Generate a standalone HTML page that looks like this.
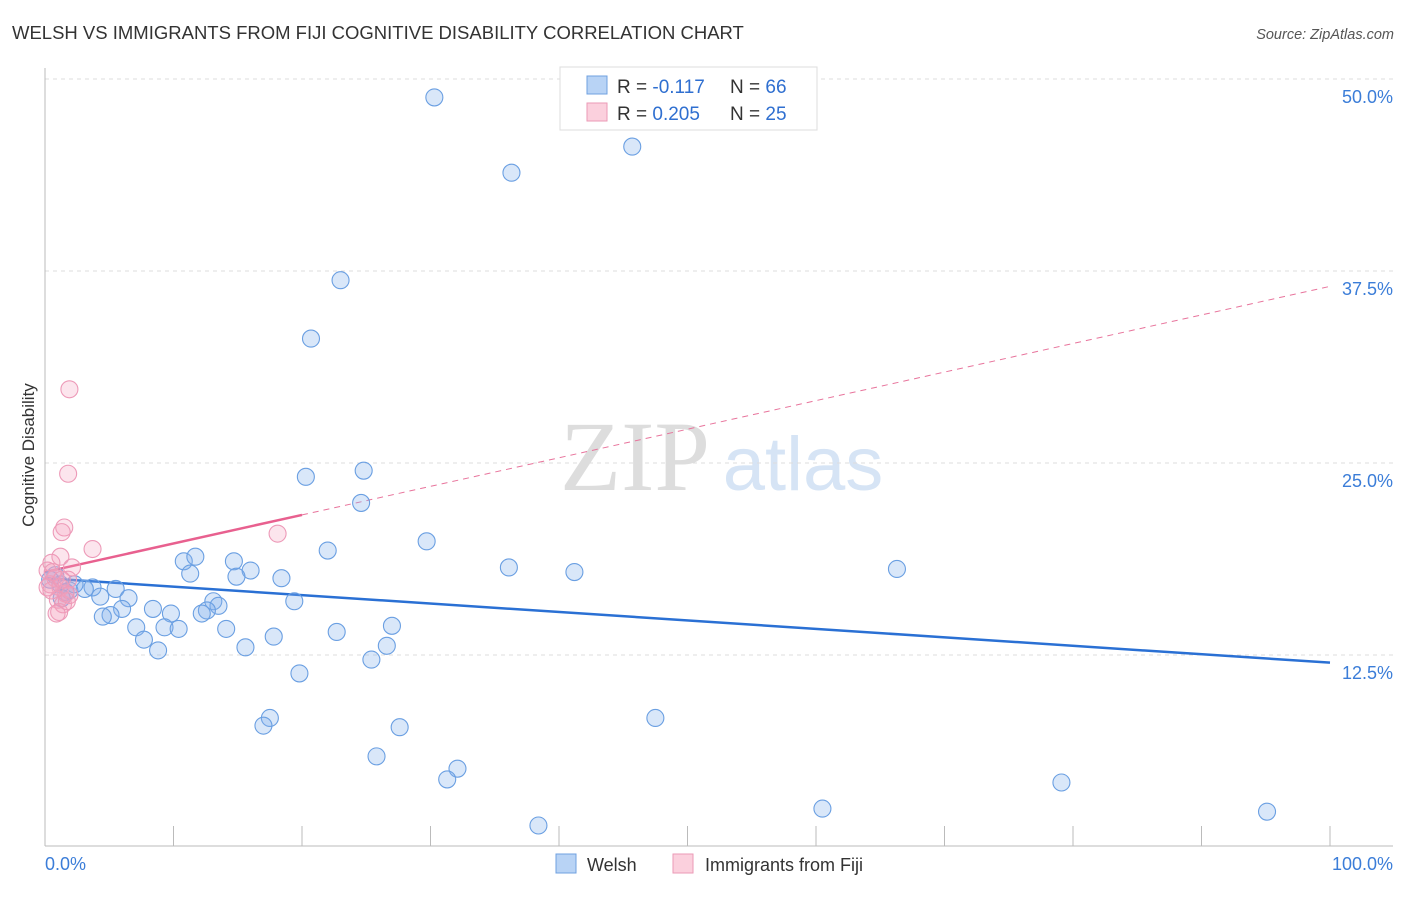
<!DOCTYPE html>
<html><head><meta charset="utf-8"><style>
body{margin:0;background:#fff;font-family:"Liberation Sans",sans-serif;}
</style></head><body>
<svg width="1406" height="892" xmlns="http://www.w3.org/2000/svg" id="chart" style="font-family:'Liberation Sans',sans-serif">
<text x="12" y="39" font-size="18.5" fill="#333">WELSH VS IMMIGRANTS FROM FIJI COGNITIVE DISABILITY CORRELATION CHART</text>
<text x="1394" y="39" font-size="14.5" fill="#555" font-style="italic" text-anchor="end">Source: ZipAtlas.com</text>
<text x="0" y="0" font-size="17" fill="#333" transform="translate(34,455) rotate(-90)" text-anchor="middle">Cognitive Disability</text>
<g>
<text x="635" y="490" font-size="100" fill="#ddd" font-family="Liberation Serif,serif" text-anchor="middle">ZIP</text>
<text x="803" y="490" font-size="76" fill="#d6e4f5" text-anchor="middle">atlas</text>
</g>
<g id="grid"></g><g id="axes"></g><g id="trends"></g><g id="points"></g>
<g>
<rect x="560" y="67" width="257" height="63" fill="#fff" stroke="#ddd"/>
<rect x="587" y="76" width="20" height="18" fill="#b8d3f5" stroke="#6fa0e0"/>
<rect x="587" y="103" width="20" height="18" fill="#fbd0dd" stroke="#eb9ab6"/>
<text x="617" y="93" font-size="19" fill="#333">R = <tspan fill="#2f6fd0">-0.117</tspan></text>
<text x="730" y="93" font-size="19" fill="#333">N = <tspan fill="#2f6fd0">66</tspan></text>
<text x="617" y="120" font-size="19" fill="#333">R = <tspan fill="#2f6fd0">0.205</tspan></text>
<text x="730" y="120" font-size="19" fill="#333">N = <tspan fill="#2f6fd0">25</tspan></text>
</g>
<g>
<rect x="556" y="854" width="20" height="19" fill="#b8d3f5" stroke="#6fa0e0"/>
<text x="587" y="871" font-size="18" fill="#333">Welsh</text>
<rect x="673" y="854" width="20" height="19" fill="#fbd0dd" stroke="#eb9ab6"/>
<text x="705" y="871" font-size="18" fill="#333">Immigrants from Fiji</text>
</g>
</svg>
<script>
const xTicks=[0,10,20,30,40,50,60,70,80,90,100];
const yTicks=[12.5,25,37.5,50];
const yTickLabels=["12.5%","25.0%","37.5%","50.0%"];
const welshX=[30.3,45.7,36.3,23.0,20.7,24.8,20.3,24.6,29.7,22.0,36.1,41.2,66.3,10.8,11.7,14.7,16.0,11.3,14.9,18.4,5.5,3.7,3.1,4.3,6.5,19.4,8.4,6.0,5.1,4.5,9.8,13.1,13.5,12.6,12.2,7.1,9.3,10.4,7.7,8.8,14.1,17.8,22.7,27.0,26.6,15.6,25.4,19.8,17.5,17.0,47.5,27.6,25.8,32.1,31.3,79.1,60.5,38.4,95.1,1.2,1.6,0.8,0.4,1.9,2.3,1.3];
const welshY=[48.8,45.6,43.9,36.9,33.1,24.5,24.1,22.4,19.9,19.3,18.2,17.9,18.1,18.6,18.9,18.6,18.0,17.8,17.6,17.5,16.8,16.9,16.8,16.3,16.2,16.0,15.5,15.5,15.1,15.0,15.2,16.0,15.7,15.4,15.2,14.3,14.3,14.2,13.5,12.8,14.2,13.7,14.0,14.4,13.1,13.0,12.2,11.3,8.4,7.9,8.4,7.8,5.9,5.1,4.4,4.2,2.5,1.4,2.3,17.1,16.6,17.7,17.4,16.7,17.1,16.2];
const fijiX=[1.9,1.8,1.5,1.3,18.1,3.7,1.2,0.5,2.1,0.2,0.8,0.4,1.8,1.2,1.6,1.0,1.4,1.1,0.9,0.2,0.6,1.9,1.7,0.5,1.3];
const fijiY=[29.8,24.3,20.8,20.5,20.4,19.4,18.9,18.5,18.2,18.0,17.5,17.1,17.4,16.9,16.5,16.1,15.8,15.3,15.2,16.9,17.9,16.4,16.0,16.7,17.4];
const welshTrend=[17.5,12.0];
const fijiTrend=[17.9,36.5];
const fijiSolidEnd=20;
const X=v=>45+v*12.85, Y=v=>847-v*15.36;
const NS="http://www.w3.org/2000/svg";
function mk(tag,attrs,parent){const e=document.createElementNS(NS,tag);for(const k in attrs)e.setAttribute(k,attrs[k]);parent.appendChild(e);return e;}
const grid=document.getElementById('grid'),axes=document.getElementById('axes');
yTicks.forEach((t,i)=>{
 const g=mk('line',{x1:45,x2:1393,y1:Y(t),y2:Y(t),stroke:'#ddd','stroke-dasharray':'4,4'},grid);
 
 
 const l=mk('text',{x:1393,y:Y(t)+24,'font-size':18,fill:'#3b7dd8','text-anchor':'end'},axes);
 l.textContent=yTickLabels[i];
 
 
});
mk('line',{x1:45,x2:45,y1:68,y2:846,stroke:'#bbb'},axes);
mk('line',{x1:45,x2:1393,y1:846,y2:846,stroke:'#bbb'},axes);
xTicks.forEach(t=>{const e=mk('line',{x1:X(t),x2:X(t),y1:826,y2:846,stroke:'#bbb'},axes);
 
 });
let a=mk('text',{x:45,y:870,'font-size':18,fill:'#3b7dd8'},axes);a.textContent='0.0%';


a=mk('text',{x:1393,y:870,'font-size':18,fill:'#3b7dd8','text-anchor':'end'},axes);a.textContent='100.0%';


const pts=document.getElementById('points');
welshX.forEach((x,i)=>{const c=mk('circle',{cx:X(x),cy:Y(welshY[i]),r:8.5,fill:'rgba(130,175,235,0.3)',stroke:'#6a9fe2','stroke-width':1.1},pts);
 
 });
fijiX.forEach((x,i)=>{const c=mk('circle',{cx:X(x),cy:Y(fijiY[i]),r:8.5,fill:'rgba(245,160,190,0.28)',stroke:'#ed9ab8','stroke-width':1.1},pts);
 
 });
const tr=document.getElementById('trends');
let t=mk('line',{x1:X(0),y1:Y(welshTrend[0]),x2:X(100),y2:Y(welshTrend[1]),stroke:'#2a70d4','stroke-width':2.5},tr);


const fy=v=>fijiTrend[0]+(fijiTrend[1]-fijiTrend[0])*v/100;
t=mk('line',{x1:X(fijiSolidEnd),y1:Y(fy(fijiSolidEnd)),x2:X(100),y2:Y(fy(100)),stroke:'#e8749c','stroke-width':1,'stroke-dasharray':'6,5'},tr);


t=mk('line',{x1:X(0),y1:Y(fy(0)),x2:X(fijiSolidEnd),y2:Y(fy(fijiSolidEnd)),stroke:'#e8608f','stroke-width':2.5},tr);


</script>
</body></html>
